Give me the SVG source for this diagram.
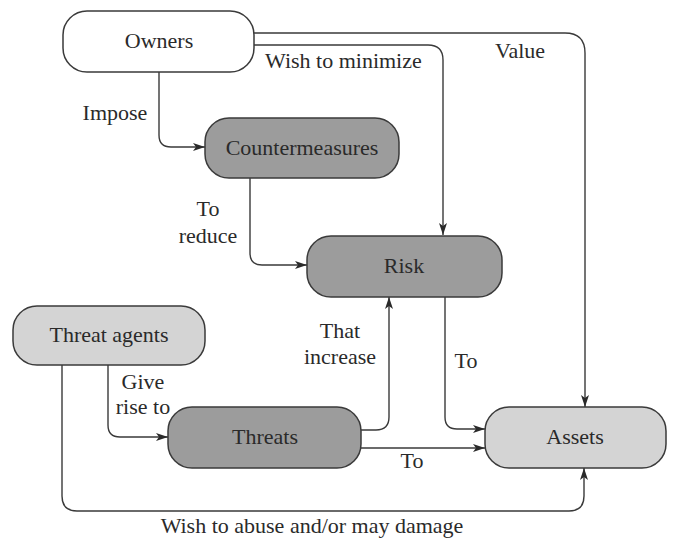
<svg xmlns="http://www.w3.org/2000/svg" width="674" height="541" viewBox="0 0 674 541">
<style>
.box{stroke:#3a3a3a;stroke-width:1.5}
.white{fill:#ffffff}
.dark{fill:#9c9c9c}
.light{fill:#d4d4d4}
text{font-family:'Liberation Serif','Tinos','Times New Roman','Nimbus Roman','FreeSerif','DejaVu Serif','Noto Serif',serif;font-size:22px;fill:#2a2a2a;text-anchor:middle}
.edge{fill:none;stroke:#3a3a3a;stroke-width:1.4;marker-end:url(#arr)}
</style>
<defs>
<marker id="arr" viewBox="0 0 12 8" refX="12" refY="4" markerWidth="12" markerHeight="8" markerUnits="userSpaceOnUse" orient="auto">
<path d="M0,0 L12,4 L0,8 L3,4 Z" fill="#2a2a2a"/>
</marker>
</defs>
<rect width="674" height="541" fill="#ffffff"/>
<g id="connectors">
<path class="edge" d="M253,33 H565 Q585,33 585,53 V407"/>
<path class="edge" d="M253,45 H428 Q443,45 443,60 V235"/>
<path class="edge" d="M159,72 V135 Q159,147 171,147 H205"/>
<path class="edge" d="M250,178 V253 Q250,265 262,265 H307"/>
<path class="edge" d="M108,365 V425 Q108,437 120,437 H168"/>
<path class="edge" d="M62,365 V496 Q62,511 77,511 H569 Q584,511 584,496 V468"/>
<path class="edge" d="M361,430 H376 Q389,430 389,417 V297"/>
<path class="edge" d="M445,297 V417 Q445,429 457,429 H485"/>
<path class="edge" d="M361,448 H485"/>
</g>
<g id="labels">
<text x="115" y="120">Impose</text>
<text x="265" y="68" style="text-anchor:start">Wish to minimize</text>
<text x="520" y="58">Value</text>
<text x="208" y="216">To</text>
<text x="208" y="243">reduce</text>
<text x="340" y="338">That</text>
<text x="340" y="364">increase</text>
<text x="466" y="368">To</text>
<text x="143" y="389">Give</text>
<text x="143" y="414">rise to</text>
<text x="412" y="468">To</text>
<text x="312" y="533">Wish to abuse and/or may damage</text>
</g>
<g id="owners">
<rect class="box white" x="63" y="11" width="191" height="61" rx="24"/>
<text x="159" y="48">Owners</text>
</g>
<g id="countermeasures">
<rect class="box dark" x="205" y="118" width="194" height="60" rx="24"/>
<text x="302" y="155">Countermeasures</text>
</g>
<g id="risk">
<rect class="box dark" x="307" y="236" width="195" height="61" rx="24"/>
<text x="404" y="273">Risk</text>
</g>
<g id="threat-agents">
<rect class="box light" x="13" y="306" width="192" height="59" rx="24"/>
<text x="109" y="342">Threat agents</text>
</g>
<g id="threats">
<rect class="box dark" x="168" y="407" width="193" height="61" rx="24"/>
<text x="265" y="444">Threats</text>
</g>
<g id="assets">
<rect class="box light" x="485" y="407" width="181" height="61" rx="24"/>
<text x="575" y="444">Assets</text>
</g>
</svg>
